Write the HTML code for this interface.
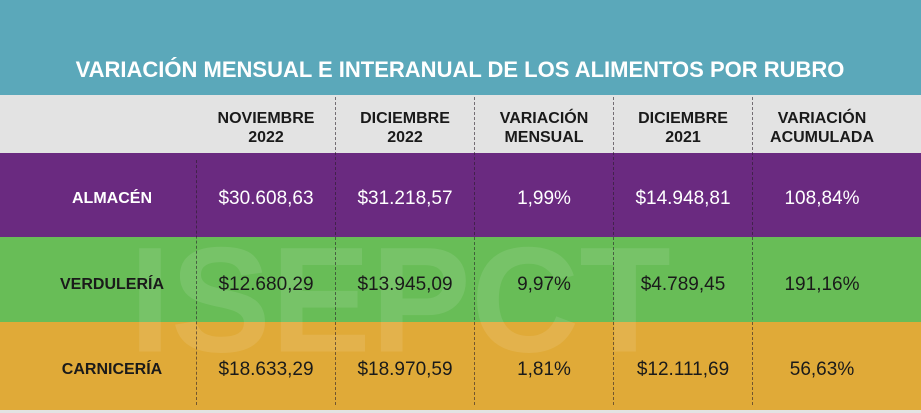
<!DOCTYPE html>
<html><head><meta charset="utf-8"><style>
body{margin:0;width:921px;height:413px;overflow:hidden;font-family:"Liberation Sans","DejaVu Sans",sans-serif;position:relative;background:#e3e3e3}
.band{position:absolute;left:0;width:921px}
.t{position:absolute;text-align:center;transform:translate(-50%,-50%);white-space:nowrap}
.h{font-weight:bold;font-size:16px;line-height:19px;color:#1a1a1a}
.v{font-size:19px}
.l{font-weight:bold;font-size:16px;position:absolute;transform:translate(-50%,-50%)}
.d{position:absolute;width:0;border-left:1px dashed rgba(40,30,40,0.6)}
</style></head><body>
<div class="band" style="top:0;height:95px;background:#5ba8ba"></div>
<div class="t" style="left:460px;top:70px;color:#fff;font-weight:bold;font-size:22px">VARIACIÓN MENSUAL E INTERANUAL DE LOS ALIMENTOS POR RUBRO</div>
<div class="band" style="top:95px;height:58px;background:#e3e3e3"></div>
<div class="band" style="top:153px;height:84px;background:#6a2a80"></div>
<div class="band" style="top:237px;height:85px;background:#68bd57"></div>
<div class="band" style="top:322px;height:88px;background:#e0aa38"></div>
<div class="t" style="left:400px;top:300px;font-size:150px;font-weight:bold;color:rgba(255,255,255,0.1)">ISEPCT</div>
<div id="root"></div>
<script>
const cols=["NOVIEMBRE<br>2022","DICIEMBRE<br>2022","VARIACIÓN<br>MENSUAL","DICIEMBRE<br>2021","VARIACIÓN<br>ACUMULADA"];
const rubros=["ALMACÉN","VERDULERÍA","CARNICERÍA"];
const nov22=["$30.608,63","$12.680,29","$18.633,29"];
const dic22=["$31.218,57","$13.945,09","$18.970,59"];
const varMens=["1,99%","9,97%","1,81%"];
const dic21=["$14.948,81","$4.789,45","$12.111,69"];
const varAcum=["108,84%","191,16%","56,63%"];
const cx=[266,405,544,683,822], rowY=[199,285,370], colors=["#fff","#1a1a1a","#1a1a1a"];
const root=document.getElementById('root');
function add(cls,html,x,y,col){const e=document.createElement('div');e.className=cls;e.innerHTML=html;e.style.left=x+'px';e.style.top=y+'px';if(col)e.style.color=col;root.appendChild(e);return e;}
cols.forEach((c,i)=>{const e=add('t h',c,cx[i],128);

});
const data=[nov22,dic22,varMens,dic21,varAcum];
rubros.forEach((r,j)=>{const e=add('l',r,112,rowY[j],colors[j]);


data.forEach((arr,i)=>{const v=add('t v',arr[j],cx[i],rowY[j],colors[j]);

});});
[196,335,474,613,752].forEach((x,i)=>{const d=document.createElement('div');d.className='d';d.style.left=x+'px';d.style.top=(i==0?160:97)+'px';d.style.height=(i==0?245:308)+'px';


root.appendChild(d);});
</script>
</body></html>
